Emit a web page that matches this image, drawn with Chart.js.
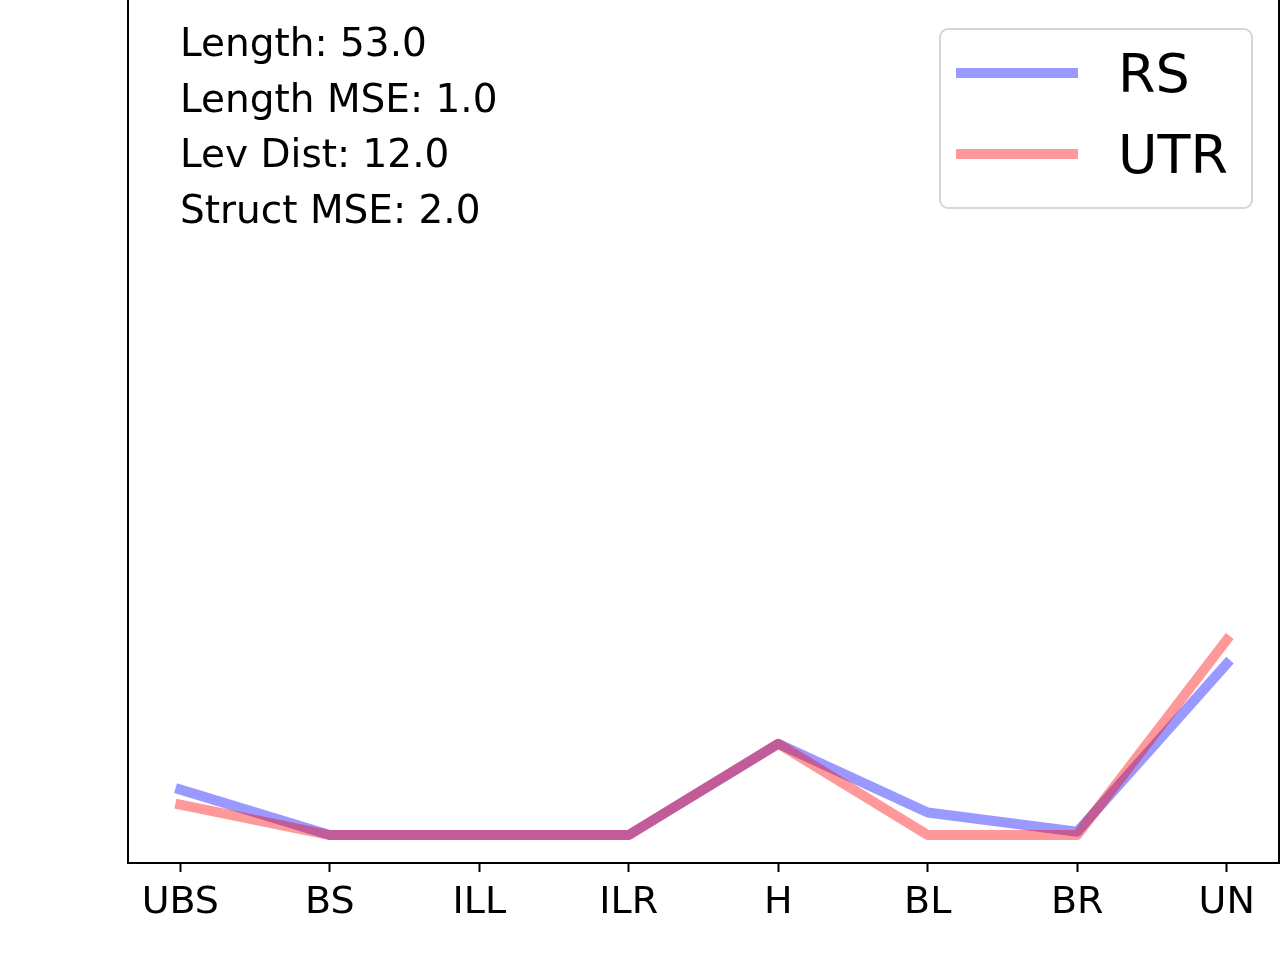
<!DOCTYPE html>
<html>
<head>
<meta charset="utf-8">
<script src="https://cdn.jsdelivr.net/npm/chart.js@4.4.1/dist/chart.umd.min.js"></script>
<style>
  html, body { margin: 0; padding: 0; background: #fff; }
  #wrap { width: 1280px; height: 960px; }
</style>
</head>
<body>
<div id="wrap"><canvas id="chart" width="1280" height="960"></canvas></div>
<script>
// categories along x
const categories = ["UBS", "BS", "ILL", "ILR", "H", "BL", "BR", "UN"];
// series values (y axis is hidden)
const rsValues = [0.0545, 0, 0, 0, 0.1095, 0.027, 0.004, 0.2053];
const utrValues = [0.0365, 0, 0, 0, 0.1095, 0, 0, 0.234];
// summary text in the upper left
const statLines = ["Length: 53.0", "Length MSE: 1.0", "Lev Dist: 12.0", "Struct MSE: 2.0"];

const FONT = "'DejaVu Sans', 'Liberation Sans', sans-serif";

const toPoints = (vals) => vals.map((v, i) => ({ x: i, y: v }));

// frame, stats text and legend drawn on top of the plot
const overlay = {
  id: "overlay",
  afterDraw: (chart) => {
    const ctx = chart.ctx;
    const a = chart.chartArea;
    ctx.save();

    // axes box (top edge sits just off the canvas)
    ctx.strokeStyle = "#000";
    ctx.lineWidth = 2;
    ctx.strokeRect(a.left, a.top - 3, a.right - a.left, a.bottom - a.top + 3);

    // stats text
    ctx.fillStyle = "#000";
    ctx.font = "39px " + FONT;
    ctx.textAlign = "left";
    ctx.textBaseline = "alphabetic";
    statLines.forEach((t, i) => ctx.fillText(t, 180, 56 + i * 55.7));

    // legend
    const bx = 940, by = 29, bw = 312, bh = 179, r = 8;
    ctx.beginPath();
    ctx.roundRect(bx, by, bw, bh, r);
    ctx.fillStyle = "rgba(255,255,255,0.8)";
    ctx.fill();
    ctx.strokeStyle = "#d6d6d6";
    ctx.lineWidth = 2;
    ctx.stroke();

    const ys = [73, 154];
    chart.data.datasets.forEach((ds, i) => {
      ctx.beginPath();
      ctx.strokeStyle = ds.borderColor;
      ctx.lineWidth = 10;
      ctx.lineCap = "butt";
      ctx.moveTo(956, ys[i]);
      ctx.lineTo(1078, ys[i]);
      ctx.stroke();
      ctx.fillStyle = "#000";
      ctx.font = "54px " + FONT;
      ctx.fillText(ds.label, 1118, ys[i] + 19);
    });
    ctx.restore();
  },
};

new Chart(document.getElementById("chart").getContext("2d"), {
  type: "line",
  data: {
    datasets: [
      {
        label: "RS",
        data: toPoints(rsValues),
        borderColor: "rgba(0,0,255,0.4)",
        borderWidth: 10,
        borderCapStyle: "square",
        borderJoinStyle: "round",
        pointRadius: 0,
        tension: 0,
        order: 1,
      },
      {
        label: "UTR",
        data: toPoints(utrValues),
        borderColor: "rgba(255,0,0,0.4)",
        borderWidth: 10,
        borderCapStyle: "square",
        borderJoinStyle: "round",
        pointRadius: 0,
        tension: 0,
        order: 0,
      },
    ],
  },
  options: {
    responsive: false,
    animation: false,
    devicePixelRatio: 1,
    layout: { padding: { left: 128, right: 1, top: 1, bottom: 0 } },
    plugins: {
      legend: { display: false },
      tooltip: { enabled: false },
    },
    scales: {
      x: {
        type: "linear",
        min: -0.35,
        max: 7.35,
        afterBuildTicks: (axis) => {
          axis.ticks = categories.map((c, i) => ({ value: i }));
        },
        afterFit: (axis) => {
          axis.height = 97;
        },
        border: { display: false },
        grid: {
          drawOnChartArea: false,
          drawTicks: true,
          tickLength: 9,
          tickColor: "#000",
          tickWidth: 2,
        },
        ticks: {
          color: "#000",
          padding: 8,
          maxRotation: 0,
          autoSkip: false,
          font: { family: FONT, size: 38 },
          callback: (value) => categories[value] ?? "",
        },
      },
      y: {
        display: false,
        min: -0.0335,
        max: 1,
      },
    },
  },
  plugins: [overlay],
});
</script>
</body>
</html>
